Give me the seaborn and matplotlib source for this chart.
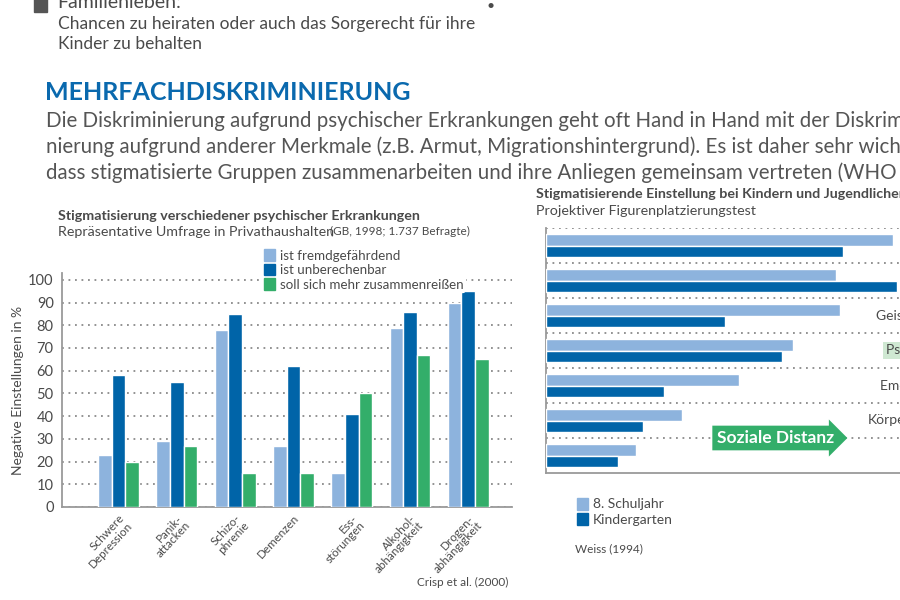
import matplotlib
matplotlib.use("Agg")
import matplotlib.pyplot as plt
from matplotlib.patches import Patch, Rectangle
import seaborn as sns
import pandas as pd

# Linkes Diagramm: Stigmatisierung verschiedener psychischer Erkrankungen
erkrankungen = ["Schwere\nDepression", "Panik-\nattacken", "Schizo-\nphrenie", "Demenzen",
                "Ess-\nstörungen", "Alkohol-\nabhängigkeit", "Drogen-\nabhängigkeit"]
einstellungen = ["ist fremdgefährdend", "ist unberechenbar", "soll sich mehr zusammenreißen"]
fremdgefaehrdend = [23, 29, 78, 27, 15, 79, 90]
unberechenbar = [58, 55, 85, 62, 41, 86, 95]
zusammenreissen = [20, 27, 15, 15, 50, 67, 65]
y_ticks = list(range(0, 101, 10))

# Rechtes Diagramm: Stigmatisierende Einstellung bei Kindern und Jugendlichen
reihen = ["1", "2", "3", "4", "5", "6", "7"]
reihen_labels = ["", "", "Geistige Behinderung", "Psychische Erkrankung",
                 "Emotionale Störung", "Körperbehinderung", ""]
gruppen = ["8. Schuljahr", "Kindergarten"]
schuljahr8 = [97, 81, 82, 69, 54, 38, 25]
kindergarten = [83, 98, 50, 66, 33, 27, 20]

hell = "#8db3dd"
dunkel = "#0064a8"
gruen = "#33ae6a"
grau = "#4a4a4a"
titelblau = "#0a69ae"

sns.set_style("white")
plt.rcParams["font.family"] = ["Lato", "DejaVu Sans"]

W, H = 900, 600
fig = plt.figure(figsize=(9, 6), dpi=100)


def fx(x):
    return x / W


def fy(y):
    return 1 - y / H


def px_axes(left, top, right, bottom):
    return fig.add_axes([fx(left), fy(bottom), (right - left) / W, (bottom - top) / H])


# Text oben
fig.patches.append(Rectangle((fx(34), fy(12)), 13 / W, 13 / H, transform=fig.transFigure,
                             color="#555555"))
fig.text(fx(57), fy(2), "Familienleben:", fontsize=14, color=grau, va="center")
fig.text(fx(58), fy(24), "Chancen zu heiraten oder auch das Sorgerecht für ihre",
         fontsize=12.5, color=grau, va="center")
fig.text(fx(58), fy(44), "Kinder zu behalten", fontsize=12.5, color=grau, va="center")
fig.text(fx(487), fy(6), "•", fontsize=10, color=grau, va="center")

fig.text(fx(45), fy(92), "MEHRFACHDISKRIMINIERUNG", fontsize=18, fontweight="bold",
         color=titelblau, va="center")
absatz = ["Die Diskriminierung aufgrund psychischer Erkrankungen geht oft Hand in Hand mit der Diskrimi-",
          "nierung aufgrund anderer Merkmale (z.B. Armut, Migrationshintergrund). Es ist daher sehr wichtig,",
          "dass stigmatisierte Gruppen zusammenarbeiten und ihre Anliegen gemeinsam vertreten (WHO"]
for i, zeile in enumerate(absatz):
    fig.text(fx(46), fy(121 + i * 26), zeile, fontsize=14.8, color="#555555", va="center")

# ---------------- linkes Diagramm ----------------
df_l = pd.DataFrame({
    "Erkrankung": erkrankungen * 3,
    "Einstellung": sum([[e] * len(erkrankungen) for e in einstellungen], []),
    "Prozent": fremdgefaehrdend + unberechenbar + zusammenreissen,
})

ax1 = px_axes(62, 273, 512, 507)
sns.barplot(data=df_l, x="Erkrankung", y="Prozent", hue="Einstellung", hue_order=einstellungen,
            palette=[hell, dunkel, gruen], width=0.7, gap=0, errorbar=None, saturation=1,
            legend=False, ax=ax1, zorder=3)
ax1.set_xlim(-0.97, 6.75)
ax1.set_ylim(0, 103)
ax1.set_yticks(y_ticks)
ax1.yaxis.grid(True, linestyle=(0, (1, 2.6)), color="#8a8a8a", linewidth=1.3, zorder=0)
ax1.set_axisbelow(True)
for s in ["top", "right"]:
    ax1.spines[s].set_visible(False)
for s in ["left", "bottom"]:
    ax1.spines[s].set_color("#9a9a9a")
    ax1.spines[s].set_linewidth(1.3)
ax1.tick_params(axis="both", length=0, colors=grau)
ax1.tick_params(axis="y", labelsize=10.5, pad=6)
ax1.set_xticks(range(len(erkrankungen)))
ax1.set_xticklabels(erkrankungen, rotation=47, ha="right", rotation_mode="anchor",
                    fontsize=8.4, color=grau, linespacing=0.95)
ax1.tick_params(axis="x", pad=4)
ax1.set_xlabel("")
ax1.set_ylabel("Negative Einstellungen in %", fontsize=10, color=grau, labelpad=3)

fig.text(fx(58), fy(216), "Stigmatisierung verschiedener psychischer Erkrankungen",
         fontsize=10.3, fontweight="bold", color=grau, va="center")
fig.text(fx(58), fy(232), "Repräsentative Umfrage in Privathaushalten", fontsize=10.3,
         color=grau, va="center")
fig.text(fx(330), fy(231), "(GB, 1998; 1.737 Befragte)", fontsize=8.5, color=grau, va="center")

fig.legend(handles=[Patch(color=c) for c in [hell, dunkel, gruen]], labels=einstellungen,
           loc="upper left", bbox_to_anchor=(fx(256), fy(241)), frameon=True,
           facecolor="white", edgecolor="white", framealpha=1, fontsize=9.6,
           handlelength=0.8, handleheight=1.0, handletextpad=0.4, labelspacing=0.15,
           borderpad=0.1, labelcolor=grau)
fig.text(fx(508), fy(582), "Crisp et al. (2000)", fontsize=8.5, color=grau, ha="right", va="center")

# ---------------- rechtes Diagramm ----------------
df_r = pd.DataFrame({
    "Reihe": reihen * 2,
    "Gruppe": [gruppen[0]] * len(reihen) + [gruppen[1]] * len(reihen),
    "Wert": schuljahr8 + kindergarten,
})

ax2 = px_axes(546, 228, 940, 473)
sns.barplot(data=df_r, y="Reihe", x="Wert", hue="Gruppe", hue_order=gruppen, orient="h",
            palette=[hell, dunkel], width=0.68, gap=0, errorbar=None, saturation=1,
            legend=False, ax=ax2, zorder=3)
ax2.set_xlim(0, 110)
ax2.set_ylim(6.5, -0.5)
for yy in [i - 0.5 for i in range(len(reihen))]:
    ax2.axhline(yy, linestyle=(0, (1, 2.6)), color="#8a8a8a", linewidth=1.3, zorder=1)
for s in ["top", "right"]:
    ax2.spines[s].set_visible(False)
for s in ["left", "bottom"]:
    ax2.spines[s].set_color("#9a9a9a")
    ax2.spines[s].set_linewidth(1.3)
ax2.set_xticks([])
ax2.set_yticks([])
ax2.set_xlabel("")
ax2.set_ylabel("")

ax2.text(64, 5.5, "Soziale Distanz", fontsize=12.5, fontweight="bold", color="white",
         ha="center", va="center", zorder=5,
         bbox=dict(boxstyle="rarrow,pad=0.25", fc=gruen, ec="none"))

label_x = {2: 876, 3: 886, 4: 880, 5: 868}
for i, lab in enumerate(reihen_labels):
    if not lab:
        continue
    yy = ax2.transData.transform((0, i))[1] / H
    box = None
    if i == 3:
        box = dict(boxstyle="square,pad=0.2", fc="#cfe8d2", ec="none")
    fig.text(fx(label_x[i]), yy, lab, fontsize=10, color=grau, va="center", bbox=box)

fig.text(fx(536), fy(194), "Stigmatisierende Einstellung bei Kindern und Jugendlichen",
         fontsize=10.3, fontweight="bold", color=grau, va="center")
fig.text(fx(536), fy(211), "Projektiver Figurenplatzierungstest", fontsize=10.3,
         color=grau, va="center")

fig.legend(handles=[Patch(color=c) for c in [hell, dunkel]], labels=gruppen,
           loc="upper left", bbox_to_anchor=(fx(564), fy(485)), frameon=False, fontsize=10,
           handlelength=0.8, handleheight=1.0, handletextpad=0.4, labelspacing=0.15,
           labelcolor=grau)
fig.text(fx(575), fy(549), "Weiss (1994)", fontsize=8.5, color=grau, va="center")

fig.savefig("out.png", dpi=100, facecolor="white")
